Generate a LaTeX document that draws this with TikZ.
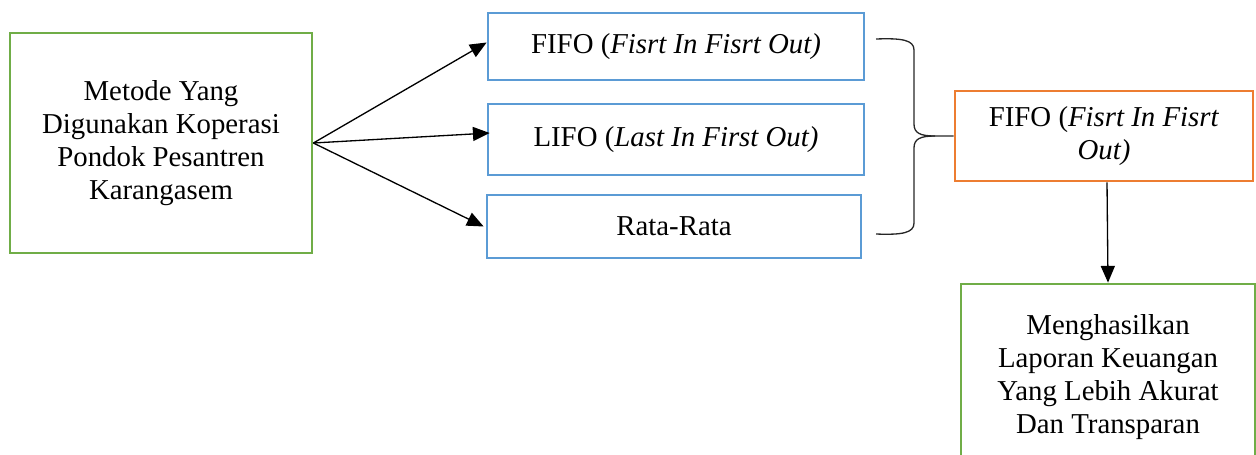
\documentclass[tikz,border=0pt]{standalone}
\usepackage{fontspec}
\setmainfont{Liberation Serif}
\usetikzlibrary{arrows.meta,calc}
\definecolor{boxgreen}{RGB}{112,173,71}
\definecolor{boxblue}{RGB}{91,155,213}
\definecolor{boxorange}{RGB}{237,125,49}
\tikzset{
  box/.style={draw, line width=1.6pt, align=center, inner sep=0pt,
    font=\fontsize{16.4}{18.9}\selectfont},
  greenbox/.style={box, draw=boxgreen},
  bluebox/.style={box, draw=boxblue},
  orangebox/.style={box, draw=boxorange},
  link/.style={line width=0.75pt, -{Triangle[length=9.5pt,width=8pt]}},
  bracepath/.style={line width=0.75pt, draw=black!85}
}
\begin{document}
\begin{tikzpicture}[x=0.02cm, y=-0.02cm]
  \useasboundingbox (0,0) rectangle (1256,454);

  % source box
  \node[greenbox, minimum width=6.04cm, minimum height=4.40cm] (src) at (161,143)
    {Metode Yang\\Digunakan Koperasi\\Pondok Pesantren\\Karangasem};

  % the three methods
  \node[bluebox, minimum width=7.52cm, minimum height=1.34cm] (fifo) at (676,46.5)
    {FIFO (\textit{Fisrt In Fisrt Out)}};
  \node[bluebox, minimum width=7.52cm, minimum height=1.42cm] (lifo) at (676,139.5)
    {LIFO (\textit{Last In First Out)}};
  \node[bluebox, minimum width=7.48cm, minimum height=1.26cm] (avg) at (674,226.5)
    {Rata-Rata};

  % chosen method
  \node[orangebox, minimum width=5.96cm, minimum height=1.80cm] (pick) at (1104,136)
    {FIFO (\textit{Fisrt In Fisrt}\\\textit{Out)}};

  % result
  \node[greenbox, minimum width=5.88cm, minimum height=3.72cm] (res) at (1108,377)
    {Menghasilkan\\Laporan Keuangan\\Yang Lebih Akurat\\Dan Transparan};

  % arrows from the source box
  \draw[link] (src.east) -- ([yshift=0.08cm]fifo.west);
  \draw[link] (src.east) -- ([xshift=0.06cm,yshift=0.13cm]lifo.west);
  \draw[link] (src.east) -- ([xshift=-0.04cm]avg.west);

  % brace gathering the three methods
  \coordinate (btop) at (876,39);
  \coordinate (bbot) at (876,234);
  \coordinate (bmid) at (935,136);
  \draw[bracepath] (btop) .. controls (902,38) and (914,40) .. (914,50)
    -- (914,124) .. controls (914,133) and (920,136) .. (bmid) -- (pick.west);
  \draw[bracepath] (bbot) .. controls (902,235) and (914,233) .. (914,223)
    -- (914,148) .. controls (914,139) and (920,136) .. (bmid);

  % arrow to the result
  \draw[link] ([xshift=0.06cm]pick.south) -- (res.north);
\end{tikzpicture}
\end{document}
